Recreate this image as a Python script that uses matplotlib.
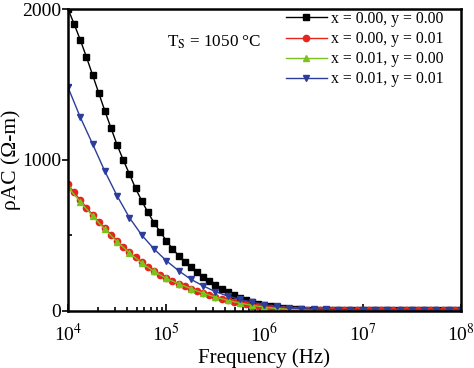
import numpy as np
import matplotlib
matplotlib.use('Agg')
import matplotlib.pyplot as plt

plt.rcParams['font.family'] = ['Liberation Serif', 'DejaVu Serif']
plt.rcParams['mathtext.fontset'] = 'stix'

# frequency sweeps (16 and 8 points per decade)
freq_fine = np.logspace(4, 8, 65)
freq_coarse = np.logspace(4, 8, 33)

# rho_AC (ohm-m)
rho_00_00 = [2000, 1900, 1795, 1682, 1563, 1444, 1325, 1212, 1099, 1000,
             907, 812, 730, 654, 585, 525, 466, 413, 367, 327,
             290, 256, 225, 196, 170, 146, 125, 106, 89, 74,
             60, 48, 38, 30, 24, 19, 15, 12, 10, 9,
             9, 8, 8, 8, 7, 7, 7, 7, 7, 7,
             7, 7, 7, 7, 7, 7, 7, 7, 7, 7,
             7, 7, 7, 7, 7]
rho_00_01 = [840, 785, 735, 685, 638, 592, 548, 506, 465, 425,
             390, 355, 322, 292, 265, 240, 218, 198, 180, 163,
             148, 132, 118, 104, 92, 80, 70, 60, 51, 43,
             36, 30, 24, 19, 15, 12, 10, 9, 8, 8,
             7, 7, 7, 7, 7, 7, 6, 6, 6, 6,
             6, 6, 6, 6, 6, 6, 6, 6, 6, 6,
             6, 6, 6, 6, 6]
rho_01_00 = [820, 722, 630, 540, 458, 385, 318, 262, 216, 180,
             148, 118, 92, 70, 52, 37, 25, 16, 11, 8,
             7, 7, 6, 6, 6, 6, 6, 6, 6, 6,
             6, 6, 6]
rho_01_01 = [1481, 1283, 1106, 925, 762, 618, 503, 411, 333, 267,
             210, 166, 128, 99, 77, 58, 42, 30, 21, 15,
             12, 10, 9, 8, 8, 7, 7, 7, 7, 7,
             7, 7, 7]

labels = ['x = 0.00, y = 0.00', 'x = 0.00, y = 0.01',
          'x = 0.01, y = 0.00', 'x = 0.01, y = 0.01']

fig = plt.figure(figsize=(4.74, 3.68), dpi=100)
ax = fig.add_axes([0.1435, 0.155, 0.829, 0.8205])

ax.plot(freq_fine, rho_00_00, color='black', marker='s', ms=4, lw=1, label=labels[0])
ax.plot(freq_fine, rho_00_01, color='#e4261e', marker='o', ms=4.5, lw=1, label=labels[1])
ax.plot(freq_coarse, rho_01_00, color='#7cc21e', marker='^', ms=5, lw=1, label=labels[2])
ax.plot(freq_coarse, rho_01_01, color='#2c3d9c', marker='v', ms=5, lw=1, label=labels[3])

ax.set_xscale('log')
ax.set_xlim(1e4, 1e8)
ax.set_ylim(0, 2000)
ax.set_xticks([1e4, 1e5, 1e6, 1e7, 1e8])
ax.set_xticklabels(['10$^{4}$', '10$^{5}$', '10$^{6}$', '10$^{7}$', '10$^{8}$'])
ax.set_yticks([0, 1000, 2000])
ax.set_yticks([500, 1500], minor=True)

ax.tick_params(axis='x', which='both', direction='in', labelsize=14, width=1.2)
ax.tick_params(axis='x', which='major', length=5, pad=9)
ax.tick_params(axis='x', which='minor', length=3)
ax.tick_params(axis='y', which='major', direction='out', length=4, width=1.2,
               labelsize=14, pad=1)
ax.tick_params(axis='y', which='minor', direction='in', length=3, width=1.2)
for s in ax.spines.values():
    s.set_linewidth(1.8)

ax.set_xlabel('Frequency (Hz)', fontsize=15, labelpad=2)
ax.set_ylabel('ρAC (Ω-m)', fontsize=15.5, labelpad=1)

ax.text(0.252, 0.874, 'T$_\\mathrm{S}$ = 1050 °C', transform=ax.transAxes,
        fontsize=12.3, va='baseline')

ax.legend(loc='upper right', bbox_to_anchor=(0.985, 1.03), frameon=False, fontsize=11.3,
          handlelength=2.6, handletextpad=0.3, labelspacing=0.26, borderaxespad=0.3)

fig.savefig('out.png', dpi=100)
